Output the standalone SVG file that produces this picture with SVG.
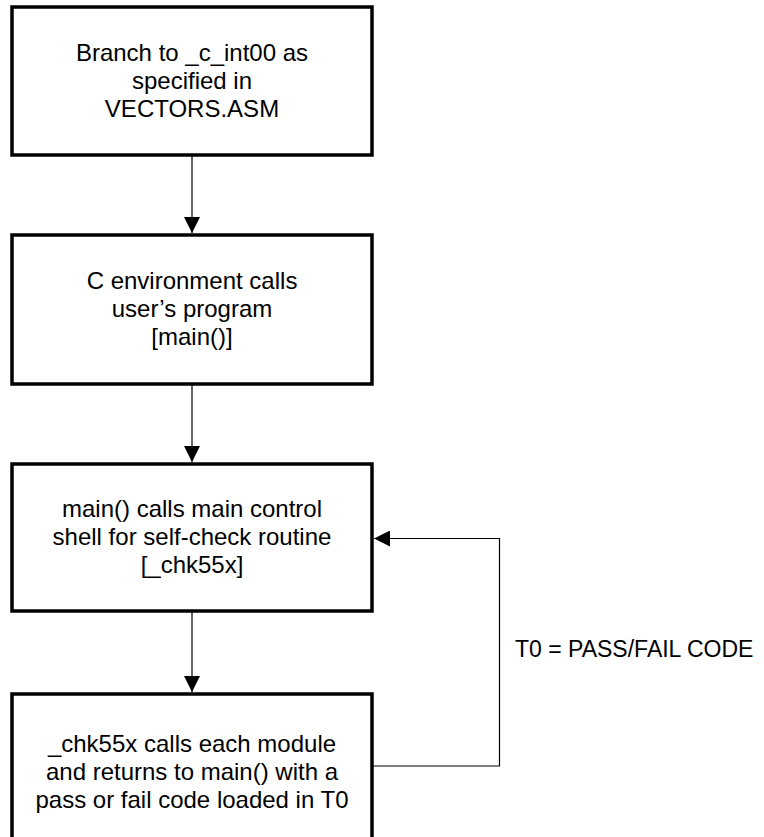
<svg xmlns="http://www.w3.org/2000/svg" width="764" height="837" viewBox="0 0 764 837">
<style>
.box{fill:#fff;stroke:#000;stroke-width:3.5}
.t{font-family:"Liberation Sans",Arial,sans-serif;font-size:24px;fill:#000;text-anchor:middle}
.c{fill:none;stroke:#000;stroke-width:1.2}
</style>
<defs>
<marker id="ah" viewBox="0 0 16 16" refX="16" refY="8" markerWidth="16" markerHeight="16" markerUnits="userSpaceOnUse" orient="auto">
<path d="M0,0 L16,8 L0,16 Z" fill="#000"/>
</marker>
</defs>
<g id="n1">
<rect class="box" x="12" y="7" width="360" height="148"/>
<text class="t" x="192" y="61">Branch to _c_int00 as</text>
<text class="t" x="192" y="89">specified in</text>
<text class="t" x="192" y="117">VECTORS.ASM</text>
</g>
<g id="n2">
<rect class="box" x="12" y="235" width="360" height="149"/>
<text class="t" x="192" y="289">C environment calls</text>
<text class="t" x="192" y="317">user’s program</text>
<text class="t" x="192" y="345">[main()]</text>
</g>
<g id="n3">
<rect class="box" x="12" y="464" width="360" height="147"/>
<text class="t" x="192" y="517">main() calls main control</text>
<text class="t" x="192" y="545">shell for self-check routine</text>
<text class="t" x="192" y="573">[_chk55x]</text>
</g>
<g id="n4">
<rect class="box" x="12" y="694" width="360" height="150"/>
<text class="t" x="192" y="752">_chk55x calls each module</text>
<text class="t" x="192" y="780">and returns to main() with a</text>
<text class="t" x="192" y="808">pass or fail code loaded in T0</text>
</g>
<g id="connectors">
<line class="c" x1="192" y1="156" x2="192" y2="233" marker-end="url(#ah)"/>
<line class="c" x1="192" y1="385" x2="192" y2="462" marker-end="url(#ah)"/>
<line class="c" x1="192" y1="612" x2="192" y2="692" marker-end="url(#ah)"/>
<polyline class="c" points="373,766 499.5,766 499.5,538.5 374,538.5" marker-end="url(#ah)"/>
<text class="t" x="515" y="657" style="text-anchor:start;font-size:23px">T0 = PASS/FAIL CODE</text>
</g>
</svg>
